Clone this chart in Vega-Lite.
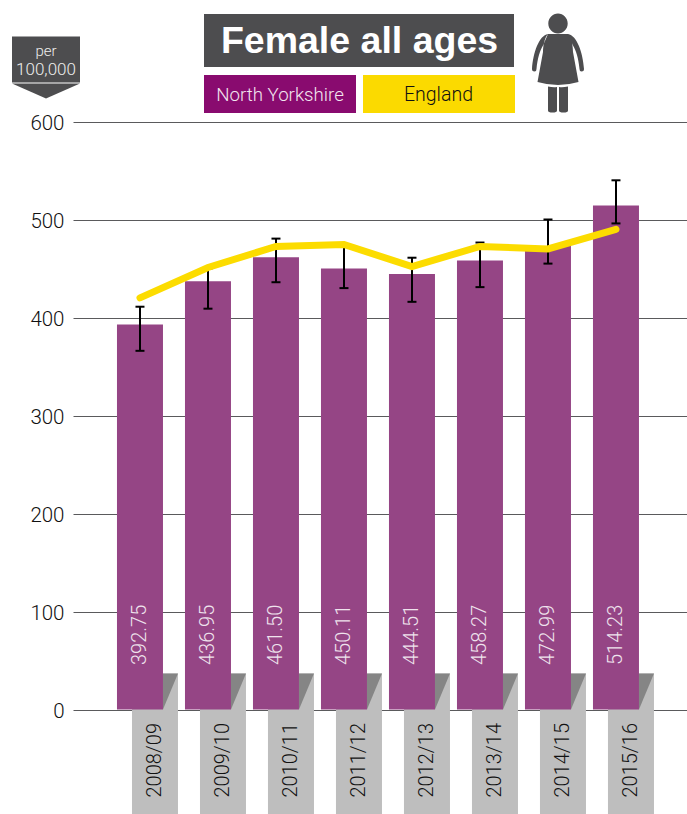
{
"$schema":"https://vega.github.io/schema/vega-lite/v6.json",
"width":614,"height":814,
"autosize":{"type":"none"},
"padding":{"left":73,"top":0,"right":0,"bottom":0},
"background":"white",
"config":{"view":{"stroke":null},"text":{"font":"Roboto","fontWeight":300}},
"resolve":{"scale":{"x":"independent"}},
"layer":[
{
 "data":{"values":[
  {"period":"2008/09","rate":392.75,"lower":366,"upper":411,"england":420},
  {"period":"2009/10","rate":436.95,"lower":409,"upper":450,"england":451},
  {"period":"2010/11","rate":461.50,"lower":436,"upper":480.5,"england":472.5},
  {"period":"2011/12","rate":450.11,"lower":430,"upper":472,"england":474.5},
  {"period":"2012/13","rate":444.51,"lower":416,"upper":461,"england":452},
  {"period":"2013/14","rate":458.27,"lower":431,"upper":476.5,"england":472.5},
  {"period":"2014/15","rate":472.99,"lower":455,"upper":500,"england":470},
  {"period":"2015/16","rate":514.23,"lower":496,"upper":540,"england":490}
 ]},
 "encoding":{"x":{"field":"period","type":"nominal","axis":null,"scale":{"paddingInner":0.3235,"paddingOuter":0.6765,"align":0.478}}},
 "layer":[
  {"mark":{"type":"bar","xOffset":15,"color":"#BEBEBE"},
   "encoding":{"y":{"datum":-106.63,"type":"quantitative","scale":{"domain":[-106.63,723.98],"nice":false,"zero":false},
     "axis":{"values":[0,100,200,300,400,500,600],"grid":true,"gridColor":"#5A5A5C","gridWidth":1,"domain":false,"ticks":false,"title":null,"labelFont":"Roboto","labelFontWeight":300,"labelFontSize":20.5,"labelColor":"#111111","labelPadding":9,"labelOffset":1.5}},
     "y2":{"datum":36.7}}},
  {"mark":{"type":"point","filled":true,"color":"#858585","opacity":1,"strokeWidth":0,"xOffset":30.5,"shape":"M-0.417,-1L0.417,-1L-0.417,1Z","size":1296},
   "encoding":{"y":{"datum":18.35,"type":"quantitative"}}},
  {"mark":{"type":"bar","color":"#954585"},
   "encoding":{"y":{"field":"rate","type":"quantitative"}}},
  {"mark":{"type":"rule","color":"#000000","strokeWidth":2},
   "encoding":{"y":{"field":"lower","type":"quantitative"},"y2":{"field":"upper"}}},
  {"mark":{"type":"tick","color":"#000000","size":9,"thickness":2,"opacity":1,"orient":"horizontal"},
   "encoding":{"y":{"field":"lower","type":"quantitative"}}},
  {"mark":{"type":"tick","color":"#000000","size":9,"thickness":2,"opacity":1,"orient":"horizontal"},
   "encoding":{"y":{"field":"upper","type":"quantitative"}}},
  {"mark":{"type":"line","color":"#FCDC00","strokeWidth":7,"strokeCap":"round","strokeJoin":"miter"},
   "encoding":{"y":{"field":"england","type":"quantitative"}}},
  {"mark":{"type":"text","angle":270,"align":"left","baseline":"middle","fontSize":20,"color":"#EFE3ED"},
   "encoding":{"y":{"datum":45.4,"type":"quantitative"},"text":{"field":"rate","type":"quantitative","format":".2f"}}},
  {"mark":{"type":"text","angle":270,"align":"left","baseline":"middle","fontSize":20,"color":"#111111","xOffset":15},
   "encoding":{"y":{"datum":-89.8,"type":"quantitative"},"text":{"field":"period"}}}
 ]
},
{
 "data":{"values":[{"header":1}]},
 "layer":[
  {"mark":{"type":"rect","color":"#4D4D4F"},
   "encoding":{"x":{"datum":204,"type":"quantitative","axis":null,"scale":{"domain":[73,687],"nice":false,"zero":false}},"x2":{"datum":514},"y":{"datum":709.7,"type":"quantitative"},"y2":{"datum":655.6}}},
  {"mark":{"type":"rect","color":"#890B6F"},
   "encoding":{"x":{"datum":204,"type":"quantitative"},"x2":{"datum":356},"y":{"datum":647.4,"type":"quantitative"},"y2":{"datum":608.6}}},
  {"mark":{"type":"rect","color":"#FBDA00"},
   "encoding":{"x":{"datum":363,"type":"quantitative"},"x2":{"datum":515},"y":{"datum":647.4,"type":"quantitative"},"y2":{"datum":608.6}}},
  {"mark":{"type":"rect","color":"#4D4D4F"},
   "encoding":{"x":{"datum":12,"type":"quantitative"},"x2":{"datum":80},"y":{"datum":686.7,"type":"quantitative"},"y2":{"datum":639.8}}},
  {"mark":{"type":"point","filled":true,"color":"#4D4D4F","opacity":1,"strokeWidth":0,"shape":"M-1,-0.22L1,-0.22L0,0.22Z","size":4624},
   "encoding":{"x":{"datum":46,"type":"quantitative"},"y":{"datum":631.1,"type":"quantitative"}}},
  {"mark":{"type":"point","filled":true,"color":"#4D4D4F","opacity":1,"strokeWidth":0,"size":10000,
    "shape":"M-0.194,-0.79A0.194,0.2 0 1 1 0.194,-0.79A0.194,0.2 0 1 1 -0.194,-0.79ZM-0.2,-0.58C-0.38,-0.55 -0.5,-0.2 -0.52,0.12Q-0.52,0.17 -0.47,0.17Q-0.43,0.17 -0.43,0.12C-0.41,-0.1 -0.36,-0.25 -0.3,-0.35ZM0.2,-0.58C0.38,-0.55 0.5,-0.2 0.52,0.12Q0.52,0.17 0.47,0.17Q0.43,0.17 0.43,0.12C0.41,-0.1 0.36,-0.25 0.3,-0.35ZM-0.2,-0.58L0.2,-0.58C0.28,-0.5 0.3,-0.3 0.3,-0.22L0.41,0.38Q0,0.5 -0.41,0.38L-0.3,-0.22C-0.3,-0.3 -0.28,-0.5 -0.2,-0.58ZM-0.2,0.47Q-0.1,0.49 -0.02,0.48L-0.02,0.95Q-0.02,0.99 -0.11,0.99Q-0.2,0.99 -0.2,0.95ZM0.2,0.47Q0.1,0.49 0.02,0.48L0.02,0.95Q0.02,0.99 0.11,0.99Q0.2,0.99 0.2,0.95Z"},
   "encoding":{"x":{"datum":558,"type":"quantitative"},"y":{"datum":659.7,"type":"quantitative"}}},
  {"mark":{"type":"text","font":"Liberation Sans","fontWeight":"bold","fontSize":37.5,"color":"#FFFFFF","align":"center","baseline":"middle","text":"Female all ages"},
   "encoding":{"x":{"datum":359.5,"type":"quantitative"},"y":{"datum":681.5,"type":"quantitative"}}},
  {"mark":{"type":"text","fontSize":18.7,"color":"#F3E6F0","align":"center","baseline":"middle","text":"North Yorkshire"},
   "encoding":{"x":{"datum":280,"type":"quantitative"},"y":{"datum":627.5,"type":"quantitative"}}},
  {"mark":{"type":"text","fontSize":19.5,"color":"#111111","align":"center","baseline":"middle","text":"England"},
   "encoding":{"x":{"datum":438.5,"type":"quantitative"},"y":{"datum":627.5,"type":"quantitative"}}},
  {"mark":{"type":"text","fontSize":15,"color":"#EDEDED","align":"center","baseline":"middle","text":"per"},
   "encoding":{"x":{"datum":46,"type":"quantitative"},"y":{"datum":671.5,"type":"quantitative"}}},
  {"mark":{"type":"text","fontSize":17,"color":"#EDEDED","align":"center","baseline":"middle","text":"100,000"},
   "encoding":{"x":{"datum":46,"type":"quantitative"},"y":{"datum":653,"type":"quantitative"}}}
 ]
}
]
}
